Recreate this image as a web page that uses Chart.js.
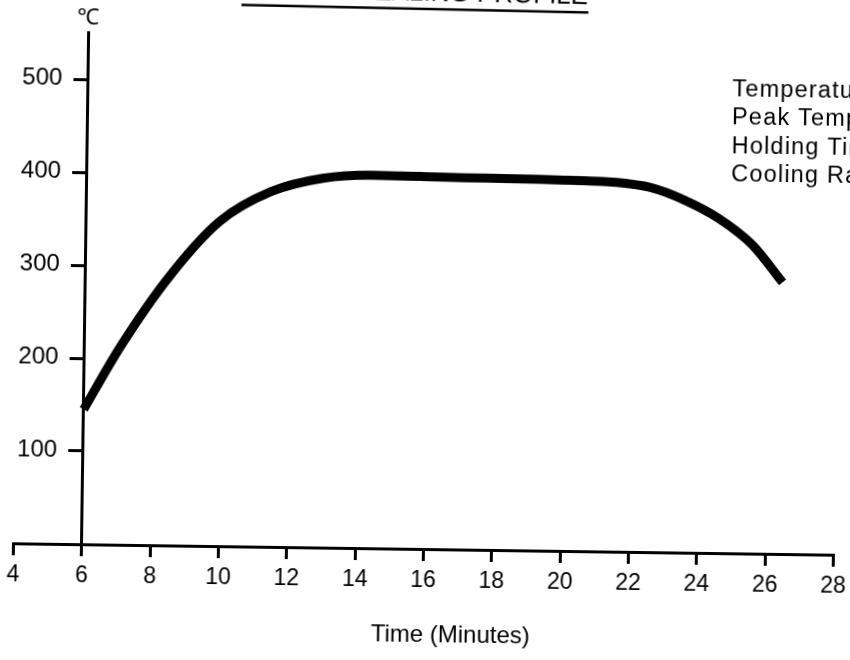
<!DOCTYPE html>
<html>
<head>
<meta charset="utf-8">
<script src="https://cdn.jsdelivr.net/npm/chart.js@4"></script>
<style>
html,body{margin:0;padding:0;background:#fff;overflow:hidden;width:850px;height:660px;}
#wrap{position:absolute;left:-20px;top:-20px;width:890px;height:700px;transform:rotate(0.8deg);transform-origin:50% 50%;}
canvas{display:block;}
</style>
</head>
<body>
<div id="wrap"><canvas id="c" width="890" height="700"></canvas></div>
<script>
// ---- data ----
const timeMin = [6, 7.05, 8.45, 9.9, 11.4, 12.9, 14.3, 16.6, 19.6, 21.5, 22.5, 23.5, 24.5, 25.5, 26.4];
const tempC   = [145, 213, 289, 349, 382, 397, 401, 400, 399, 397, 392, 379, 360, 332, 292];
const xTicks  = [4, 6, 8, 10, 12, 14, 16, 18, 20, 22, 24, 26, 28];
const yTicks  = [100, 200, 300, 400, 500];
const titleText = 'TYPICAL SEALING PROFILE';
const notes = ['Temperature Rise Rate', 'Peak Temperature', 'Holding Time', 'Cooling Rate'];
const xTitle = 'Time (Minutes)';
const yUnit = '\u2103';

const FONT = '"Liberation Sans", Arial, Helvetica, sans-serif';
const INK = '#000';

const textPlugin = {
  id: 'texts',
  afterDraw(chart) {
    const ctx = chart.ctx;
    const ca = chart.chartArea;
    const xs = chart.scales.x;
    const ys = chart.scales.y;
    const axisX = xs.getPixelForValue(6);
    ctx.save();
    ctx.fillStyle = INK;
    ctx.strokeStyle = INK;
    // title (mostly cut off at the top), slightly skewed like the scan
    ctx.save();
    ctx.translate(430, 24.5);
    ctx.rotate(0.008);
    ctx.font = '26px ' + FONT;
    ctx.textAlign = 'center';
    ctx.textBaseline = 'alphabetic';
    ctx.fillText(titleText, 0, -4);
    ctx.lineWidth = 2.5;
    ctx.beginPath();
    ctx.moveTo(-173, 4.4);
    ctx.lineTo(174, 4.4);
    ctx.stroke();
    ctx.restore();
    // y tick labels
    ctx.font = '24px ' + FONT;
    ctx.textAlign = 'right';
    ctx.textBaseline = 'middle';
    yTicks.forEach(v => ctx.fillText(String(v), axisX - 26, ys.getPixelForValue(v) - 1));
    // unit label above y axis
    ctx.font = '22px ' + FONT;
    ctx.textAlign = 'center';
    ctx.fillText(yUnit, axisX - 1, ca.top - 15);
    // notes on the right
    ctx.font = '23.5px ' + FONT;
    ctx.letterSpacing = '1.2px';
    ctx.textAlign = 'left';
    ctx.textBaseline = 'alphabetic';
    const base = [112, 140, 168.5, 197];
    notes.forEach((t, i) => ctx.fillText(t, 749, base[i]));
    ctx.letterSpacing = '0px';
    // x axis title
    ctx.font = '24px ' + FONT;
    ctx.textAlign = 'center';
    ctx.textBaseline = 'middle';
    ctx.fillText(xTitle, (ca.left + ca.right) / 2 + 28, 655);
    ctx.restore();
  }
};

new Chart(document.getElementById('c'), {
  type: 'line',
  data: {
    datasets: [{
      data: timeMin.map((t, i) => ({ x: t, y: tempC[i] })),
      borderColor: INK,
      borderWidth: 9,
      borderCapStyle: 'butt',
      pointRadius: 0,
      cubicInterpolationMode: 'monotone',
      fill: false
    }]
  },
  options: {
    responsive: false,
    animation: false,
    devicePixelRatio: 1,
    layout: { padding: { left: 36.5, right: 33.5, top: 57.5, bottom: 0 } },
    plugins: { legend: { display: false }, tooltip: { enabled: false } },
    scales: {
      x: {
        type: 'linear',
        min: 4, max: 28,
        afterBuildTicks: s => { s.ticks = xTicks.map(v => ({ value: v })); },
        afterFit: s => { s.height = 131; s.paddingLeft = 0; s.paddingRight = 0; },
        grid: { drawOnChartArea: false, drawTicks: true, tickLength: 12, lineWidth: 3, color: INK },
        border: { display: true, width: 3, color: INK },
        ticks: { color: INK, padding: 6, font: { family: FONT, size: 23 }, maxRotation: 0, autoSkip: false }
      },
      y: {
        type: 'linear',
        position: { x: 6 },
        min: 0, max: 550,
        afterBuildTicks: s => { s.ticks = yTicks.map(v => ({ value: v })); },
        grid: { drawOnChartArea: false, drawTicks: true, tickLength: 13, lineWidth: 3, color: INK },
        border: { display: true, width: 3, color: INK },
        ticks: { display: false }
      }
    }
  },
  plugins: [textPlugin]
});
</script>
</body>
</html>
